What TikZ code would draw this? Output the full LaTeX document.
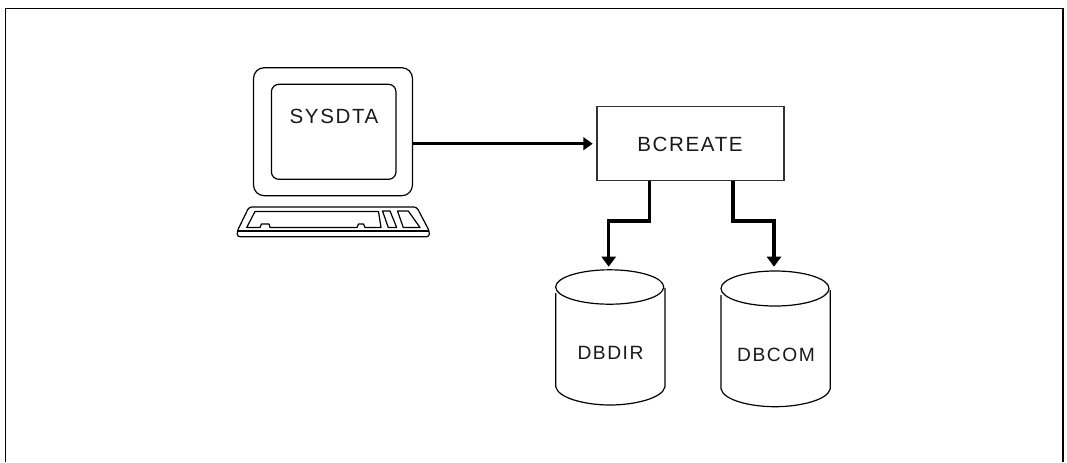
\documentclass[tikz,border=0pt]{standalone}
\usepackage{fontspec}
\setmainfont{Liberation Sans}[LetterSpace=8]
\usetikzlibrary{arrows.meta}
\tikzset{
  px/.style={x=0.75pt,y=-0.75pt},
  thinline/.style={draw=black,line width=0.9pt,line join=round},
  frameline/.style={draw=black,line width=0.9pt},
  boxline/.style={draw=black!80,line width=1.1pt,fill=white},
  flow/.style={draw=black,line width=2.2pt,line join=miter,-{Triangle[length=7pt,width=9.5pt]}},
  flowthick/.style={flow,line width=2.4pt,-{Triangle[length=7.5pt,width=10.5pt]}},
  label/.style={inner sep=0pt,font=\fontsize{15.4pt}{17pt}\selectfont,text=black!90},
  dblabel/.style={inner sep=0pt,font=\fontsize{14.4pt}{16pt}\selectfont,text=black!90},
}
\begin{document}
\begin{tikzpicture}[px]
\useasboundingbox (0,0) rectangle (1067,462);
% frame, open at the bottom
\draw[frameline] (5.5,462) -- (5.5,8.5) -- (1063,8.5) -- (1063,462);
% monitor
\node[thinline,rounded corners=8pt,minimum width=119.2pt,minimum height=96pt,inner sep=0pt] (monitor) at (333,131.7) {};
\node[thinline,rounded corners=5.5pt,minimum width=93.4pt,minimum height=71.2pt,inner sep=0pt] (screen) at (333.7,131.8) {};
\node[label] (sysdta) at (334,116) {SYSDTA};
% keyboard
\draw[thinline,rounded corners=2pt] (249,207) -- (416.7,207) -- (429.3,231) -- (429.3,236.7) -- (237.3,236.7) -- (237.3,231) -- cycle;
\draw[thinline] (237.3,231) -- (429.3,231);
\draw[thinline] (255,211.5) -- (378.5,211.5) -- (381,227.5) -- (365,227.5) -- (363.5,224) -- (358.5,224) -- (357,227.5) -- (270,227.5) -- (269,224) -- (261.5,224) -- (260,227.5) -- (246.7,227.5) -- cycle;
\draw[thinline] (382.5,211) -- (390,211) -- (396.7,227.5) -- (388.3,227.5) -- cycle;
\draw[thinline] (397.5,211) -- (408.3,211) -- (420,227.5) -- (403.3,227.5) -- cycle;
% BCREATE
\node[boxline,minimum width=140.3pt,minimum height=55.5pt,inner sep=0pt] (bcreate) at (690.3,143.7) {};
\node[label] (bcreatetext) at (690,144) {BCREATE};
% cylinder DBDIR
\draw[thinline] (555.7,293) -- (555.7,386.7) .. controls (558,398) and (585,405) .. (610,405) .. controls (635,405) and (663,398) .. (665,386.7) -- (665,288);
\draw[thinline] (609.7,287) ellipse [x radius=54,y radius=17.2];
\node[dblabel] (dbdir) at (610.5,352.7) {DBDIR};
\coordinate (dbdirtop) at (608.7,266.7);
% cylinder DBCOM
\draw[thinline] (721,295) -- (721,388.7) .. controls (723,400) and (750,406.7) .. (775,406.7) .. controls (800,406.7) and (828,400) .. (830.3,388.7) -- (830.3,290);
\draw[thinline] (775,288.5) ellipse [x radius=54,y radius=17.5];
\node[dblabel] (dbcom) at (776,354.7) {DBCOM};
\coordinate (dbcomtop) at (774,266.7);
% connectors
\coordinate (in) at (bcreate.west);
\draw[flow] (monitor.east |- in) -- ([xshift=-2.5pt]in);
\coordinate (outl) at (649.3,180.7);
\coordinate (outr) at (733,180.7);
\draw[flowthick] (outl) -- (649.3,221) -- (608.7,221) -- (dbdirtop);
\draw[flowthick] (outr) -- (733,221) -- (774,221) -- (dbcomtop);
\end{tikzpicture}
\end{document}
